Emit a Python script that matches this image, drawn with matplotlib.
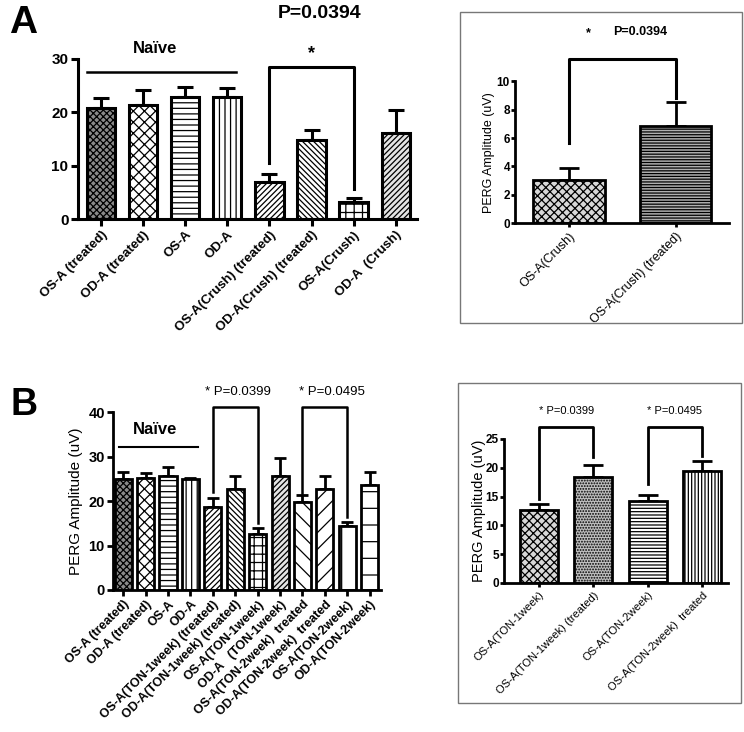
import matplotlib
matplotlib.use("Agg")
import matplotlib.pyplot as plt
from matplotlib.patches import Rectangle
import numpy as np

plt.rcParams['font.family'] = ['Liberation Sans', 'DejaVu Sans']
plt.rcParams['hatch.linewidth'] = 0.9
plt.rcParams['hatch.color'] = 'black'

# panel A, all groups
a_labels = ['OS-A (treated)', 'OD-A (treated)', 'OS-A', 'OD-A',
            'OS-A(Crush) (treated)', 'OD-A(Crush) (treated)', 'OS-A(Crush)', 'OD-A  (Crush)']
a_means = [20.9, 21.4, 22.9, 22.9, 6.9, 14.9, 3.2, 16.2]
a_sem = [1.7, 2.7, 1.85, 1.7, 1.6, 1.7, 0.7, 4.2]

# panel A, crush comparison
ai_labels = ['OS-A(Crush)', 'OS-A(Crush) (treated)']
ai_means = [3.08, 6.87]
ai_sem = [0.8, 1.65]

# panel B, all groups
b_labels = ['OS-A (treated)', 'OD-A (treated)', 'OS-A', 'OD-A',
            'OS-A(TON-1week) (treated)', 'OD-A(TON-1week) (treated)', 'OS-A(TON-1week)',
            'OD-A   (TON-1week)', 'OS-A(TON-2week)  treated', 'OD-A(TON-2week)  treated',
            'OS-A(TON-2week)', 'OD-A(TON-2week)']
b_means = [24.9, 25.1, 25.7, 24.9, 18.7, 22.6, 12.7, 25.6, 19.7, 22.6, 14.5, 23.6]
b_sem = [1.6, 1.2, 1.9, 0.2, 1.9, 3.0, 1.2, 4.1, 1.7, 3.0, 0.9, 3.0]

# panel B, TON comparison
bi_labels = ['OS-A(TON-1week)', 'OS-A(TON-1week) (treated)', 'OS-A(TON-2week)', 'OS-A(TON-2week)  treated']
bi_means = [12.6, 18.35, 14.2, 19.4]
bi_sem = [1.1, 2.05, 1.0, 1.8]

fine_x = ('#8a8a8a', 'xxxxx')
checker = ('white', 'xxx')
horiz = ('white', '---')
vert = ('white', '|||')
diag = ('white', '//////')
bdiag = ('white', '\\\\\\\\\\\\')
grid = ('white', '++')
lattice = ('#e4e4e4', '//////')
a_fills = [fine_x, checker, horiz, vert, diag, bdiag, grid, lattice]
ai_fills = [('#d8d8d8', 'xxxx'), ('#b0b0b0', '------')]
b_fills = [fine_x, checker, horiz, vert, diag, bdiag, grid, lattice,
           ('white', '\\\\'), ('white', '//'), ('white', '|'), ('white', '-')]
bi_fills = [('#d8d8d8', 'xxxx'), ('#c0c0c0', '......'), ('white', '-----'), ('white', '|||||')]


def bars(ax, means, sem, fills, labels, width, lw, cap, fs, weight, tfs, tlen, tpad=2):
    x = np.arange(len(means))
    ax.errorbar(x, means, yerr=[np.zeros(len(sem)), sem], fmt='none', ecolor='black',
                elinewidth=lw, capsize=cap, capthick=lw, zorder=1)
    for xi, m, (fc, h) in zip(x, means, fills):
        ax.bar(xi, m, width=width, facecolor=fc, hatch=h, edgecolor='black', linewidth=lw, zorder=2)
    ax.spines['top'].set_visible(False)
    ax.spines['right'].set_visible(False)
    ax.spines['left'].set_linewidth(lw)
    ax.spines['bottom'].set_linewidth(lw)
    ax.tick_params(width=lw, length=tlen, pad=2)
    ax.tick_params(axis='y', pad=tpad)
    ax.set_xticks(x)
    ax.set_xticklabels(labels, rotation=45, ha='right', rotation_mode='anchor',
                       fontsize=fs, fontweight=weight)
    for t in ax.get_yticklabels():
        t.set_fontweight('bold')
        t.set_fontsize(tfs)
    return x


def bracket(ax, x1, x2, top, y1, y2, lw):
    ax.plot([x1, x1, x2, x2], [y1, top, top, y2], color='black', lw=lw, clip_on=False)


fig = plt.figure(figsize=(7.44, 7.32), dpi=100)

# ---- A main
ax1 = fig.add_axes([0.105, 0.7008, 0.455, 0.2186])
ax1.set_ylim(0, 30)
ax1.set_yticks([0, 10, 20, 30])
ax1.set_xlim(-0.55, 7.5)
bars(ax1, a_means, a_sem, a_fills, a_labels, 0.67, 2.2, 6, 9.5, 'bold', 11, 5)
ax1.plot([-0.33, 3.2], [27.6, 27.6], color='black', lw=1.8, clip_on=False)
ax1.text(1.28, 30.5, 'Naïve', ha='center', va='bottom', fontsize=12, fontweight='bold')
bracket(ax1, 4, 6, 28.5, 10.5, 5.7, 2.2)
ax1.text(5.0, 29.5, '*', ha='center', va='bottom', fontsize=13, fontweight='bold')
fig.text(0.429, 0.982, 'P=0.0394', ha='center', va='center', fontsize=14, fontweight='bold')
fig.text(0.012, 0.955, 'A', ha='left', va='baseline', fontsize=28, fontweight='bold')

# ---- A inset
fig.add_artist(Rectangle((0.618, 0.559), 0.379, 0.425, transform=fig.transFigure,
                         fill=False, edgecolor='#777777', lw=1.0))
ax2 = fig.add_axes([0.692, 0.695, 0.288, 0.194])
ax2.set_ylim(0, 10)
ax2.set_yticks([0, 2, 4, 6, 8, 10])
ax2.set_xlim(-0.505, 1.5)
bars(ax2, ai_means, ai_sem, ai_fills, ai_labels, 0.67, 2.0, 7, 9, 'normal', 8.5, 3, tpad=0.5)
ax2.set_ylabel('PERG Amplitude (uV)', fontsize=9, labelpad=1)
bracket(ax2, 0, 1, 11.6, 5.65, 8.85, 2.2)
ax2.text(0.18, 13.4, '*', ha='center', va='center', fontsize=9, fontweight='bold')
ax2.text(0.41, 13.5, 'P=0.0394', ha='left', va='center', fontsize=9, fontweight='bold')

# ---- B main
ax3 = fig.add_axes([0.152, 0.194, 0.36, 0.243])
ax3.set_ylim(0, 40)
ax3.set_yticks([0, 10, 20, 30, 40])
ax3.set_xlim(-0.45, 11.5)
bars(ax3, b_means, b_sem, b_fills, b_labels, 0.76, 2.0, 4, 9, 'bold', 10.5, 4)
ax3.set_ylabel('PERG Amplitude (uV)', fontsize=11)
ax3.plot([-0.2, 3.35], [32.1, 32.1], color='black', lw=1.5, clip_on=False)
ax3.text(1.43, 34.3, 'Naïve', ha='center', va='bottom', fontsize=12, fontweight='bold')
bracket(ax3, 4, 6, 41.1, 22.0, 15.0, 1.8)
bracket(ax3, 8, 10, 41.1, 21.8, 16.4, 1.8)
ax3.text(5.1, 44.5, '* P=0.0399', ha='center', va='center', fontsize=9.5)
ax3.text(9.3, 44.5, '* P=0.0495', ha='center', va='center', fontsize=9.5)
fig.text(0.014, 0.433, 'B', ha='left', va='baseline', fontsize=27, fontweight='bold')

# ---- B inset
fig.add_artist(Rectangle((0.6156, 0.0396), 0.38, 0.437, transform=fig.transFigure,
                         fill=False, edgecolor='#777777', lw=1.0))
ax4 = fig.add_axes([0.677, 0.2036, 0.301, 0.1967])
ax4.set_ylim(0, 25)
ax4.set_yticks([0, 5, 10, 15, 20, 25])
ax4.set_xlim(-0.65, 3.47)
bars(ax4, bi_means, bi_sem, bi_fills, bi_labels, 0.7, 2.0, 7, 8, 'normal', 8.5, 3, tpad=0.5)
ax4.set_ylabel('PERG Amplitude (uV)', fontsize=10.5, labelpad=0)
bracket(ax4, 0, 1, 27.0, 14.6, 21.8, 2.0)
bracket(ax4, 2, 3, 27.0, 17.1, 22.1, 2.0)
ax4.text(0.5, 29.8, '* P=0.0399', ha='center', va='center', fontsize=8)
ax4.text(2.5, 29.8, '* P=0.0495', ha='center', va='center', fontsize=8)

fig.savefig('out.png', dpi=100)
